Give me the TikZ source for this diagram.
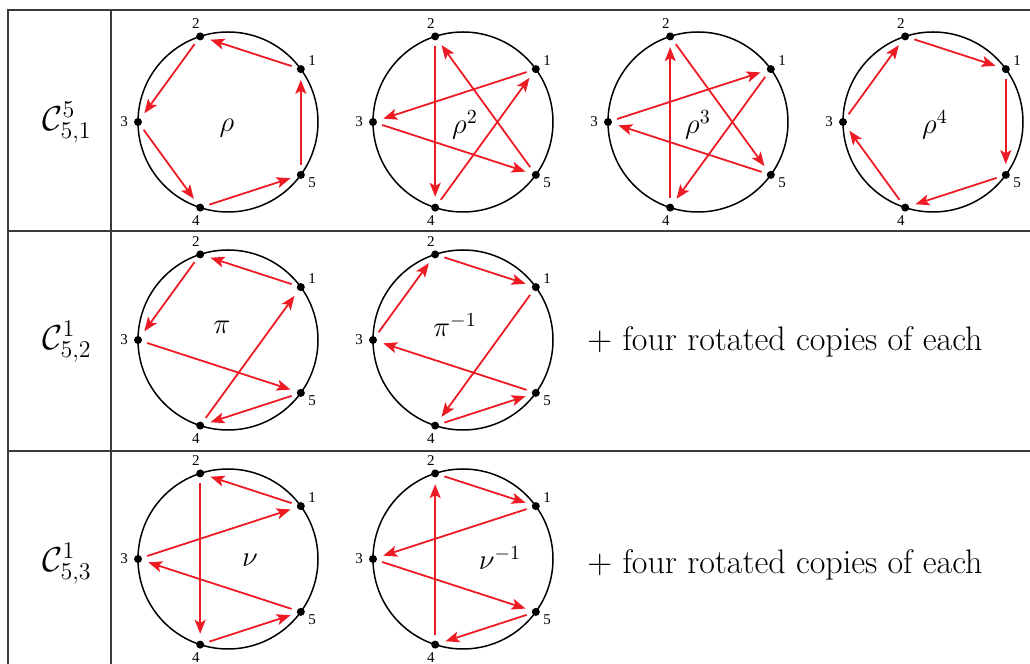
\documentclass[tikz,border=0pt]{standalone}
\usepackage{amsmath,amssymb}
\usepackage{fontspec}
\newfontfamily\numfont{Liberation Serif}
\usetikzlibrary{arrows.meta,positioning}
\definecolor{cyclered}{RGB}{237,28,36}
\definecolor{rulegray}{HTML}{3A3A3A}

\begin{document}
\begin{tikzpicture}[
  x=0.5pt, y=0.5pt,
  dot/.style={circle, fill=black, inner sep=0pt, minimum size=4pt},
  num/.style={font=\numfont\fontsize{7.5}{8}\selectfont, inner sep=0pt},
  perm/.style={font=\fontsize{14}{16}\selectfont, inner sep=0pt},
  cls/.style={font=\fontsize{17}{20}\selectfont, inner sep=0pt},
  note/.style={font=\fontsize{17}{20}\selectfont, inner sep=0pt},
  rim/.style={line width=0.75pt},
  rule/.style={line width=0.7pt, rulegray},
  arr/.style={-{Stealth[length=7pt,width=5.5pt,inset=1.6pt]}, cyclered, line width=0.9pt,
              shorten <=2.6pt, shorten >=3.2pt}
]
\useasboundingbox (0,0) rectangle (1030,664);

%% Table rules
\draw[rule] (8,0) -- (8,654) -- (1030,654);
\draw[rule] (111,0) -- (111,654);
\draw[rule] (8,433) -- (1030,433);
\draw[rule] (8,213) -- (1030,213);

%% Class labels
\node[cls] (c51) at (67,541) {$\mathcal{C}_{5,1}^{5}$};
\node[cls] (c52) at (67,322) {$\mathcal{C}_{5,2}^{1}$};
\node[cls] (c53) at (67,100) {$\mathcal{C}_{5,3}^{1}$};

%% Circles with five marked points
\foreach \c/\cx/\cy in {a/228/542, b/463/542, c/698/542, d/933/542,
                        e/228/324, f/463/324, g/228/105, h/463/105} {
  \begin{scope}[shift={(\cx,\cy)}]
    \draw[rim] (0,0) circle[radius=90];
    \foreach \k in {1,...,5} {
      \node[dot] (\c\k) at ({36+72*(\k-1)}:90) {};
      \node[num] (\c\k l) at ({36+72*(\k-1)}:104) {\k};
    }
  \end{scope}
}

%% Permutation names
\node[perm] (rho)   at (227,536) {$\rho$};
\node[perm] (rho2)  at (465,539) {$\rho^{2}$};
\node[perm] (rho3)  at (698,539) {$\rho^{3}$};
\node[perm] (rho4)  at (935,539) {$\rho^{4}$};
\node[perm] (pi)    at (222,337) {$\pi$};
\node[perm] (piinv) at (455,339) {$\pi^{-1}$};
\node[perm] (nu)    at (250,104) {$\nu$};
\node[perm] (nuinv) at (500,106) {$\nu^{-1}$};

%% Arrows of each cycle
\foreach \s/\t in {a1/a2, a2/a3, a3/a4, a4/a5, a5/a1}
  \draw[arr] (\s) -- (\t);
\foreach \s/\t in {b1/b3, b3/b5, b5/b2, b2/b4, b4/b1}
  \draw[arr] (\s) -- (\t);
\foreach \s/\t in {c1/c4, c4/c2, c2/c5, c5/c3, c3/c1}
  \draw[arr] (\s) -- (\t);
\foreach \s/\t in {d1/d5, d5/d4, d4/d3, d3/d2, d2/d1}
  \draw[arr] (\s) -- (\t);
\foreach \s/\t in {e1/e2, e2/e3, e3/e5, e5/e4, e4/e1}
  \draw[arr] (\s) -- (\t);
\foreach \s/\t in {f2/f1, f3/f2, f5/f3, f4/f5, f1/f4}
  \draw[arr] (\s) -- (\t);
\foreach \s/\t in {g1/g2, g2/g4, g4/g5, g5/g3, g3/g1}
  \draw[arr] (\s) -- (\t);
\foreach \s/\t in {h2/h1, h4/h2, h5/h4, h3/h5, h1/h3}
  \draw[arr] (\s) -- (\t);

%% Remarks
\node[note] (rem2) at (785,322) {$+$ four rotated copies of each};
\node[note] (rem3) at (785,99) {$+$ four rotated copies of each};

\end{tikzpicture}
\end{document}
